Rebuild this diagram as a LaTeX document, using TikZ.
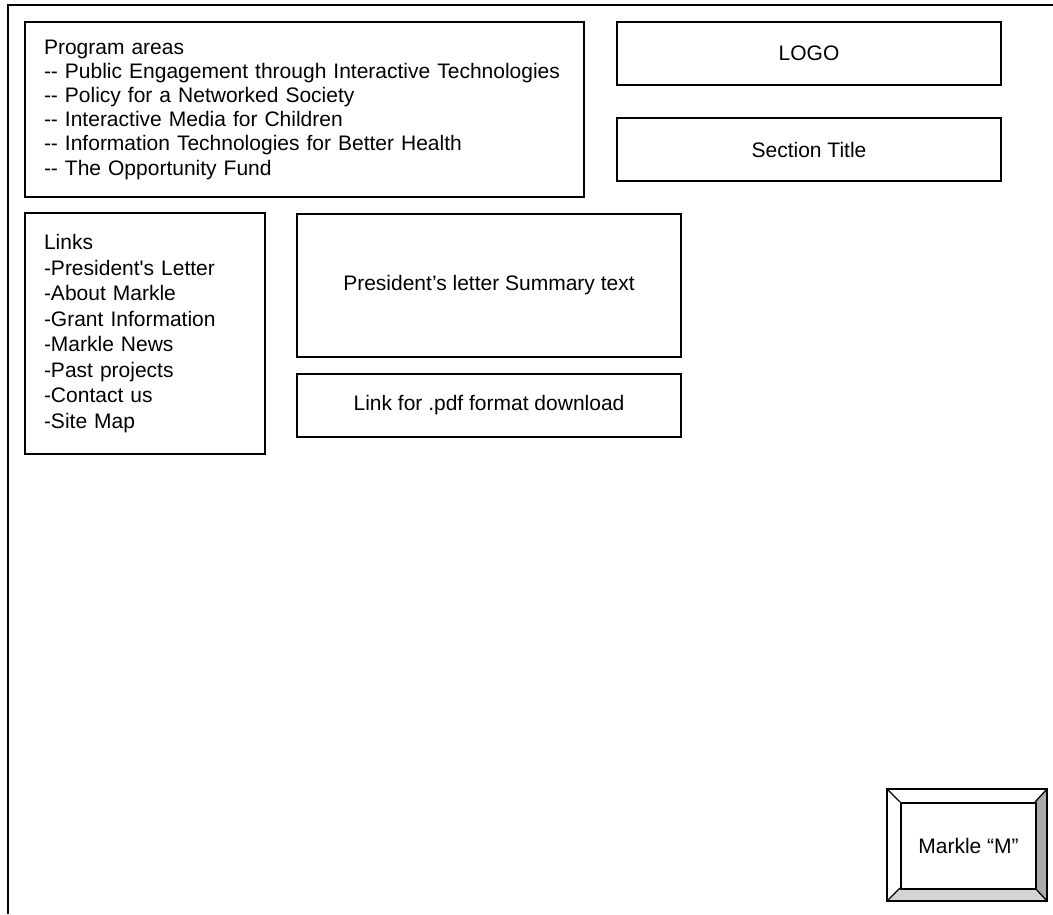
\documentclass[tikz,border=0pt]{standalone}
\usepackage{fontspec}
\setmainfont{Liberation Sans}[Ligatures=TeXOff]
\begin{document}
\begin{tikzpicture}[x=1pt,y=-1pt,
  box/.style={draw, line width=2pt, anchor=north west, inner sep=0pt},
  lbl/.style={font=\fontsize{21}{24.2}\selectfont},
  lst/.style={align=left, inner xsep=19pt}]
\useasboundingbox (0,0) rectangle (1053,914);
% outer frame (top and left only)
\coordinate (fbl) at (8,914);
\coordinate (ftl) at (8,5);
\coordinate (ftr) at (1053,5);
\draw[line width=2pt] (fbl) -- (ftl) -- (ftr);
% program areas
\node[box, lbl, lst, minimum width=559pt, minimum height=175pt, text width=521pt] (prog) at (24,21)
 {Program areas\\
  -- Public Engagement through Interactive Technologies\\
  -- Policy for a Networked Society\\
  -- Interactive Media for Children\\
  -- Information Technologies for Better Health\\
  -- The Opportunity Fund};
% logo and section title
\node[box, lbl, minimum width=384pt, minimum height=63pt] (logo) at (616,21) {LOGO};
\node[box, lbl, minimum width=384pt, minimum height=63pt] (title) at (616,117) {Section Title};
% links
\node[box, font=\fontsize{21}{25.5}\selectfont, lst, minimum width=240pt, minimum height=241pt, text width=202pt] (links) at (24,212)
 {Links\\
  -President's Letter\\
  -About Markle\\
  -Grant Information\\
  -Markle News\\
  -Past projects\\
  -Contact us\\
  -Site Map};
% summary and pdf
\node[box, lbl, minimum width=384pt, minimum height=143pt] (summary) at (296,213) {President’s letter Summary text};
\node[box, lbl, minimum width=384pt, minimum height=63pt] (pdf) at (296,373) {Link for .pdf format download};
% bevel button
\coordinate (o1) at (887,789);
\coordinate (o2) at (1047,789);
\coordinate (o3) at (1047,901);
\coordinate (o4) at (887,901);
\coordinate (i1) at (900,802);
\coordinate (i2) at (1035,802);
\coordinate (i3) at (1035,888);
\coordinate (i4) at (900,888);
\fill[white] (o1) -- (o2) -- (i2) -- (i1) -- cycle;
\fill[white] (o1) -- (i1) -- (i4) -- (o4) -- cycle;
\fill[black!33] (o2) -- (o3) -- (i3) -- (i2) -- cycle;
\fill[black!17] (o4) -- (i4) -- (i3) -- (o3) -- cycle;
\draw[line width=1.3pt] (o1) -- (i1) (o2) -- (i2) (o3) -- (i3) (o4) -- (i4);
\draw[line width=2pt] (o1) rectangle (o3);
\node[draw, line width=2pt, lbl, minimum width=135pt, minimum height=86pt, anchor=north west, inner sep=0pt] (markle) at (i1) {Markle “M”};
\end{tikzpicture}
\end{document}
